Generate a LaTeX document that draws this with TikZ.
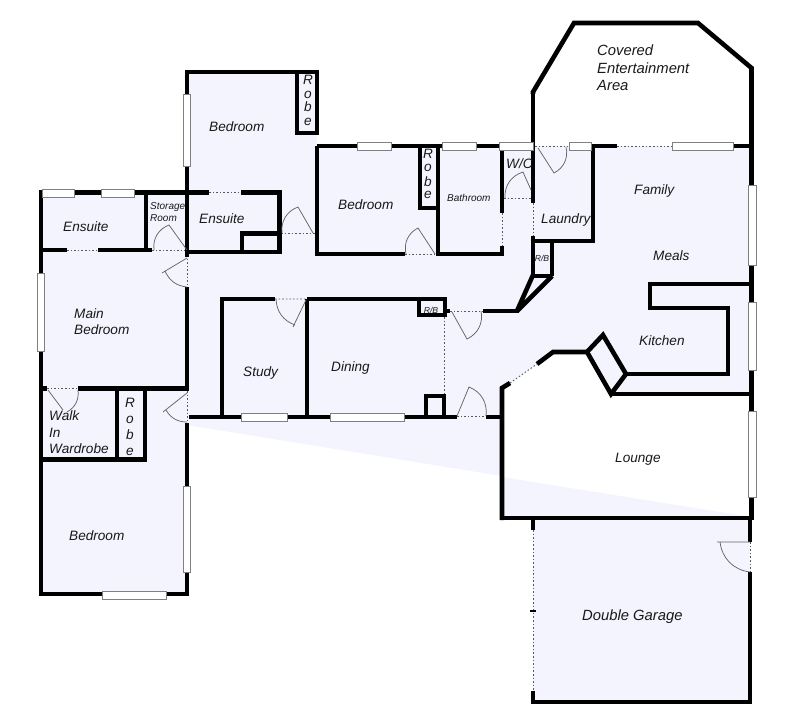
\documentclass[tikz,border=0pt]{standalone}
\usepackage{fontspec}
\setmainfont{Liberation Sans}
\tikzset{
  wall/.style={line width=4.6pt,line join=miter,line cap=butt,black},
  gap/.style={line width=.9pt,dash pattern=on 1.6pt off 2pt,black!65},
  win/.style={draw=black!50,fill=white,line width=.8pt},
  doorline/.style={line width=.75pt,black!60},
  lab/.style={anchor=base west,inner sep=0pt,font=\itshape\fontsize{13.6}{15}\selectfont,black!90},
  biglab/.style={lab,font=\itshape\fontsize{14.8}{16}\selectfont},
  smalllab/.style={lab,font=\itshape\fontsize{10}{12}\selectfont},
  tinylab/.style={lab,anchor=base,font=\itshape\fontsize{8.6}{10}\selectfont},
  stack/.style={lab,anchor=base},
}
\definecolor{floorfill}{HTML}{F3F4FD}
\begin{document}
\begin{tikzpicture}[x=1pt,y=-1pt]
\useasboundingbox (0,0) rectangle (800,714);
% floor
\fill[floorfill] (187,72)--(317,72)--(317,146)--(751,146)--(751,394)--(611,394)--(587,352)--(553,352)--(502,388)--(502,417)--(187,417)--(187,594)--(41,594)--(41,192)--(187,192)--cycle;
\fill[floorfill] (187,415)--(502,415)--(502,476)--(187,425)--cycle;
\fill[floorfill] (502,477)--(751,517)--(502,518)--cycle;
\fill[floorfill] (533,518)--(750,518)--(750,702)--(533,702)--cycle;
% dotted openings
\draw[gap] (67,250)--(98,250) (152,250)--(187,250);
\draw[gap] (187,255)--(187,287) (187,391)--(187,422);
\draw[gap] (209,192.5)--(241,192.5) (281,233)--(315,233);
\draw[gap] (405,254)--(436,254) (504,198)--(532,198) (502,213)--(502,246) (533,203)--(533,236);
\draw[gap] (535,146)--(568,146) (617,146)--(672,146);
\draw[gap] (450,311)--(483,311) (444,317)--(444,393) (457,416.5)--(486,416.5);
\draw[gap] (275,299)--(307,299) (510,383)--(537,364);
\draw[gap] (533,530)--(533,691) (750,542)--(750,572);
\draw[gap] (47,388.5)--(78,388.5);
% walls: west wing
\draw[wall] (41,192.5)--(187,192.5);
\draw[wall] (41,190.5)--(41,596);
\draw[wall] (146,192.5)--(146,250);
\draw[wall] (41,250)--(67,250) (98,250)--(152,250);
\draw[wall] (187,72)--(187,257);
\draw[wall] (187,287)--(187,391);
\draw[wall] (187,423)--(187,594);
\draw[wall] (39,594)--(189,594);
\draw[wall] (39,388.5)--(47,388.5) (78,388.5)--(187,388.5);
\draw[wall] (117,388.5)--(117,459.5) (145,388.5)--(145,461);
\draw[wall] (41,459.5)--(147,459.5);
% bedroom + ensuite
\draw[wall] (185,72)--(319,72);
\draw[wall] (297,72)--(297,133)--(317,133)--(317,72);
\draw[wall] (187,192.5)--(209,192.5) (241,192.5)--(279.5,192.5)--(279.5,252)--(187,252);
\draw[wall] (242,252)--(242,233.5)--(279.5,233.5);
\draw[wall] (317,146)--(317,256);
\draw[wall] (315,254)--(405,254);
\draw[wall] (317,146)--(499,146);
\draw[wall] (420,146)--(420,208)--(438,208);
\draw[wall] (438,146)--(438,254);
\draw[wall] (436,254)--(504,254);
\draw[wall] (502,146)--(502,213) (502,246)--(502,254);
% laundry
\draw[wall] (533,92)--(533,203) (533,236)--(533,276);
\draw[wall] (531,241)--(595,241);
\draw[wall] (593,146)--(593,243);
\draw[wall] (591,146)--(617,146) (733,146)--(752,146);
\draw[wall] (552,241)--(552,276) (531,276)--(552,276);
\draw[wall,line join=bevel] (533,275)--(517,311)--(552,276);
\draw[wall] (483,311)--(519,311);
% covered area
\draw[wall] (533,94)--(533,92)--(574,23)--(698,23)--(751.5,68)--(751.5,396);
\draw[wall] (751.5,394)--(751.5,520);
% study, dining
\draw[wall] (220,299)--(275,299) (222,299)--(222,417);
\draw[wall] (307,299)--(447,299) (307,299)--(307,417);
\draw[wall] (419,299)--(419,315)--(445,315)--(445,299);
\draw[wall] (445,311)--(450,311);
\draw[wall] (189,417)--(457,417) (486,417)--(502,417);
\draw[wall] (426,417)--(426,396)--(444,396)--(444,417);
% lounge, kitchen
\draw[wall] (502,520)--(502,388)--(510,383);
\draw[wall] (537,364)--(553,352)--(587,352);
\draw[wall] (587,352)--(603,335)--(626,374)--(611,394)--cycle;
\draw[wall] (626,374)--(728,374)--(728,308)--(650,308)--(650,284)--(751,284);
\draw[wall] (610,394)--(751,394);
\draw[wall] (500,518)--(753,518);
% garage
\draw[wall] (533,518)--(533,530) (533,691)--(533,704);
\draw[wall] (531,702)--(752,702);
\draw[wall] (750,518)--(750,542) (750,572)--(750,704);
\draw[line width=1.6pt] (530,611)--(536,611);
% windows
\foreach \a/\b/\c/\d in {
  42/189/74/197, 101/189/134/197, 183/94/190/166, 37/273/44/351,
  183/486/190/572, 102/591/166/599, 241/413/287/421, 330/413/404/421,
  357/142/391/150, 442/142/476/150, 499/142/533/150, 569/142/591/150, 672/142/733/150,
  748/185/756/265, 748/302/756/370, 748/411/756/497}
  \draw[win] (\a,\b) rectangle (\c,\d);
% doors
\draw[doorline] (187,250)--(169,225) to[bend right=38] (154,250);
\draw[doorline] (187,258)--(162,273) (165,271) to[bend right=30] (187,287);
\draw[doorline] (187,393)--(163,412) (166,410) to[bend right=30] (187,422);
\draw[doorline] (313,233)--(298,207) to[bend right=38] (282,233);
\draw[doorline] (435,254)--(418,228) to[bend right=38] (406,254);
\draw[doorline] (531,190)--(523,172) to[bend right=38] (505,198);
\draw[doorline] (538,148)--(554,173) to[bend right=38] (566,147);
\draw[doorline] (452,312)--(467,339) to[bend right=38] (481,311);
\draw[doorline] (457,416)--(469,387) to[bend left=38] (486,416);
\draw[doorline] (306,300)--(293,327) (295,325) to[bend left=34] (276,299);
\draw[doorline] (48,390)--(63,410) (67,412) to[bend right=34] (78,390);
\draw[doorline] (750,542)--(717,542) (720,542) to[bend right=38] (750,572);
% labels
\node[biglab] (covereda) at (597,56) {Covered};
\node[biglab] (coveredb) at (597,74) {Entertainment};
\node[biglab] (coveredc) at (597,91) {Area};
\node[lab] (bedrooma) at (209,132) {Bedroom};
\node[smalllab] (storagea) at (150,210) {Storage};
\node[smalllab] (storageb) at (150,222) {Room};
\node[lab] (ensuitea) at (63,231) {Ensuite};
\node[lab] (ensuiteb) at (199,223) {Ensuite};
\node[lab] (bedroomb) at (338,210) {Bedroom};
\node[smalllab] (bathroom) at (447,201) {Bathroom};
\node[lab] (wc) at (506,169) {W/C};
\node[lab] (laundry) at (541,223) {Laundry};
\node[lab] (family) at (634,195) {Family};
\node[lab] (meals) at (653,260) {Meals};
\node[lab] (kitchen) at (639,345) {Kitchen};
\node[lab] (maina) at (74,318) {Main};
\node[lab] (mainb) at (74,334) {Bedroom};
\node[lab] (study) at (243,376) {Study};
\node[lab] (dining) at (331,371) {Dining};
\node[lab] (walka) at (49,420) {Walk};
\node[lab] (walkb) at (49,437) {In};
\node[lab] (walkc) at (49,453) {Wardrobe};
\node[lab] (bedroomc) at (69,540) {Bedroom};
\node[lab] (lounge) at (615,462) {Lounge};
\node[biglab] (garage) at (582,620) {Double Garage};
\node[tinylab] (rba) at (542,261) {R/B};
\node[tinylab] (rbb) at (431,313) {R/B};
\foreach \n/\x/\y/\t in {a/308/85/R, b/308/99/o, c/308/112/b, d/308/126/e,
  e/428/159/R, f/428/172/o, g/428/186/b, h/428/199/e,
  i/130/407/R, j/130/423/o, k/130/439/b, l/130/455/e}
  \node[stack] (robe\n) at (\x,\y) {\t};
\end{tikzpicture}
\end{document}
